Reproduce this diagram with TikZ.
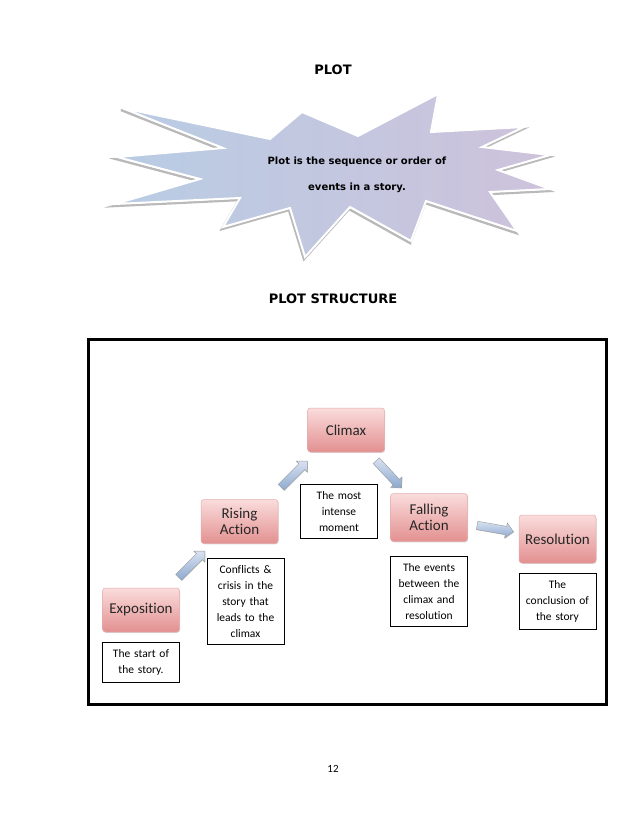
\documentclass[tikz,border=0pt]{standalone}
\usepackage{fontspec}
\setmainfont{Carlito}[Ligatures=NoCommon]
\newfontfamily\comicfont{DejaVu Sans}
\usepackage{xcolor}
\usetikzlibrary{positioning,shapes.arrows,shadows}

\definecolor{pinkTop}{HTML}{FADCDC}
\definecolor{pinkBot}{HTML}{E39090}
\definecolor{pinkEdge}{HTML}{D88A8A}
\definecolor{flowTop}{HTML}{D8E2F1}
\definecolor{flowBot}{HTML}{8DA8CF}
\definecolor{starL}{HTML}{B8CCE4}
\definecolor{starR}{HTML}{CEC2DB}

\begin{document}
\begin{tikzpicture}[
  x=1pt, y=-1pt,
  stage/.style={rounded corners=3pt, top color=pinkTop, bottom color=pinkBot,
                draw=pinkEdge!70!white, line width=0.5pt, align=center,
                minimum width=77pt, minimum height=44pt, text=black!85,
                font=\fontsize{15}{16}\selectfont,
                drop shadow={shadow xshift=0.6pt, shadow yshift=-0.8pt, opacity=0.3}},
  note/.style={draw, line width=0.6pt, fill=white, text width=68pt, align=center,
               inner xsep=4.5pt, inner ysep=7pt, font=\fontsize{11.5}{16}\selectfont},
  flow/.style={single arrow, single arrow head extend=3.5pt, inner xsep=0pt, inner ysep=4pt,
               minimum height=37pt,
               top color=flowTop, bottom color=flowBot, draw=gray!80, line width=0.4pt,
               drop shadow={shadow xshift=0.5pt, shadow yshift=-0.6pt, opacity=0.3}},
  head/.style={font=\comicfont\bfseries\fontsize{13}{15}\selectfont},
  starshadow/.style={draw=gray!55, line width=2.5pt, line join=miter, shift={(-1pt,-2pt)}},
  starbody/.style={left color=starL, right color=starR, draw=white, line width=2pt, line join=miter},
  node distance=10pt
]
\useasboundingbox (0,0) rectangle (638,826);

% burst with its definition
\foreach \lay in {starshadow,starbody}
  \path[\lay] (122,108) -- (270,139) -- (302,112) -- (358,136) -- (438,94)
    -- (431,132) -- (524,127) -- (482,147) -- (550,155) -- (498,170)
    -- (550,189) -- (490,192) -- (517,231) -- (426,201) -- (411,241)
    -- (350,207) -- (305,257) -- (290,208) -- (223,227) -- (240,198)
    -- (115,204) -- (200,179) -- (117,157) -- (223,148) -- cycle;

\node[head] (plot) at (333,70) {PLOT};
\node[align=center, font=\comicfont\bfseries\fontsize{10}{26}\selectfont] (defn) at (357,175)
  {Plot is the sequence or order of\\events in a story.};
\node[head] (pstruct) at (333,299) {PLOT STRUCTURE};

% frame
\draw[line width=3pt, fill=white,
      drop shadow={shadow xshift=1.2pt, shadow yshift=-1.2pt, opacity=0.3}]
  (88.5,339.5) rectangle (606,704.5);

% stages
\node[stage] (expo) at (141,610) {Exposition};
\node[stage] (rise) at (239.5,521.5) {Rising\\Action};
\node[stage] (climax) at (346,430) {Climax};
\node[stage, minimum height=48pt] (fall) at (429,517.5) {Falling\\Action};
\node[stage, minimum height=48pt] (resol) at (557.5,539) {Resolution};

\node[note, below=10pt of expo] (expoN) {The start of\\the story.};
\node[note, below=14pt of rise, xshift=6pt] (riseN) {Conflicts \&\\crisis in the\\story that\\leads to the\\climax};
\node[note, below=32pt of climax, xshift=-7pt] (climaxN) {The most\\intense\\moment};
\node[note, below=14pt of fall] (fallN) {The events\\between the\\climax and\\resolution};
\node[note, below=10pt of resol] (resolN) {The\\conclusion of\\the story};

% arrows
\path (expo.north east) -- node[flow, rotate=45] (up1) {} (rise.south west);
\path (rise.north east) -- node[flow, rotate=45] (up2) {} (climax.south west);
\path (climax.south east) -- node[flow, rotate=-47] (down1) {} (fall.north west);
\path (fall.east) -- node[flow, rotate=-10] (down2) {} (resol.west);

\node[font=\fontsize{11}{13}\selectfont] (pageno) at (333,769) {12};
\end{tikzpicture}
\end{document}
